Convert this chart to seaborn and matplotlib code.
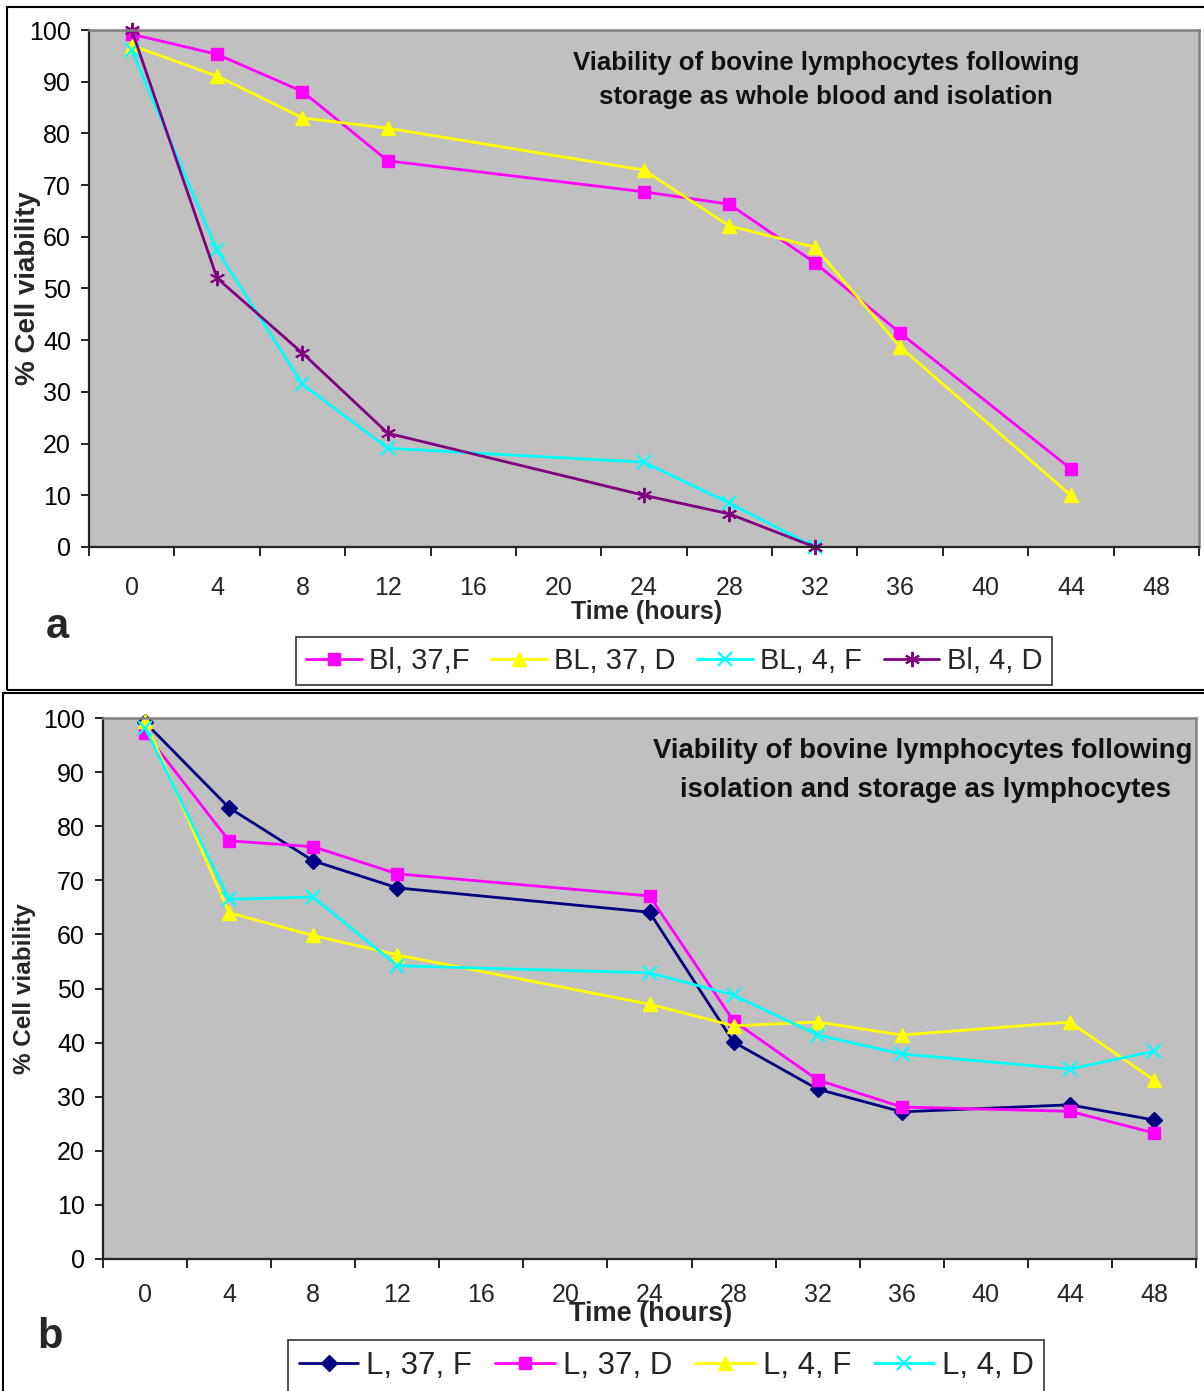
import matplotlib
matplotlib.use("Agg")
import matplotlib.pyplot as plt
from matplotlib.lines import Line2D
from matplotlib.patches import Rectangle
from matplotlib.ticker import FixedLocator, NullFormatter
import seaborn as sns
import pandas as pd

# ---------------- data ----------------
time_labels = ["0", "4", "8", "12", "16", "20", "24", "28", "32", "36", "40", "44", "48"]

a_times = ["0", "4", "8", "12", "24", "28", "32", "36", "44"]
a_bl37f = [99.2, 95.3, 88.1, 74.7, 68.7, 66.3, 55.0, 41.4, 15.1]
a_bl37d = [97.0, 91.1, 83.0, 81.0, 72.9, 62.1, 58.0, 38.7, 10.0]
a_bl4f_times = ["0", "4", "8", "12", "24", "28", "32"]
a_bl4f = [96.1, 57.4, 31.5, 19.1, 16.4, 8.5, 0.0]
a_bl4d = [100.0, 52.0, 37.5, 22.0, 10.0, 6.4, 0.0]

b_times = ["0", "4", "8", "12", "24", "28", "32", "36", "44", "48"]
b_l37f = [99.2, 83.4, 73.6, 68.6, 64.1, 40.1, 31.4, 27.2, 28.5, 25.7]
b_l37d = [97.3, 77.3, 76.2, 71.2, 67.1, 44.0, 33.1, 28.1, 27.3, 23.3]
b_l4f = [99.5, 64.0, 59.8, 56.2, 47.1, 43.1, 43.8, 41.4, 43.8, 33.1]
b_l4d = [98.2, 66.5, 66.9, 54.2, 52.9, 48.8, 41.4, 37.9, 35.1, 38.4]

a_labels = ["Bl, 37,F", "BL, 37, D", "BL, 4, F", "Bl, 4, D"]
b_labels = ["L, 37, F", "L, 37, D", "L, 4, F", "L, 4, D"]
a_title = ["Viability of bovine lymphocytes following", "storage as whole blood and isolation"]
b_title = ["Viability of bovine lymphocytes following", "isolation and storage as lymphocytes"]

# ---------------- style ----------------
sns.set_theme(style="white")
plt.rcParams["font.family"] = ["Liberation Sans", "DejaVu Sans"]

MAG, YEL, CYA, PUR, NAV = "#FF00FF", "#FFFF00", "#00FFFF", "#800080", "#000080"
ASTER = (6, 2, 0)

W, H = 1204, 1391
fig = plt.figure(figsize=(W / 100, H / 100), dpi=100)
fig.patch.set_facecolor("white")


def px_axes(x0, y0, x1, y1):
    return fig.add_axes([x0 / W, 1 - y1 / H, (x1 - x0) / W, (y1 - y0) / H])


def series_df(times, vals):
    return pd.DataFrame({"pos": [time_labels.index(t) for t in times], "val": vals})


def draw(ax, times, vals, color, marker, ms, mew=1.0):
    df = series_df(times, vals)
    sns.lineplot(data=df, x="pos", y="val", ax=ax, color=color, marker=marker,
                 markersize=ms, markeredgewidth=mew, markeredgecolor=color,
                 linewidth=2.0, sort=False, clip_on=False, legend=False)


def style_axes(ax, xpad, ylabsize, xlabsize):
    ax.set_facecolor("#C0C0C0")
    ax.set_xlim(-0.5, len(time_labels) - 0.5)
    ax.set_ylim(0, 100)
    ax.set_yticks(range(0, 101, 10))
    ax.tick_params(axis="y", which="major", direction="out", length=6, width=1.2,
                   colors="black", labelsize=18, pad=7, left=True)
    ax.xaxis.set_major_locator(FixedLocator([i - 0.5 for i in range(len(time_labels) + 1)]))
    ax.xaxis.set_major_formatter(NullFormatter())
    ax.xaxis.set_minor_locator(FixedLocator(list(range(len(time_labels)))))
    ax.set_xticklabels(time_labels, minor=True)
    ax.tick_params(axis="x", which="major", direction="out", length=6.5, width=1.2,
                   colors="black", bottom=True)
    ax.tick_params(axis="x", which="minor", length=0, labelsize=18, pad=xpad, bottom=True)
    for s in ["left", "bottom"]:
        ax.spines[s].set_color("#222222")
        ax.spines[s].set_linewidth(1.6)
    for s in ["top", "right"]:
        ax.spines[s].set_color("#808080")
        ax.spines[s].set_linewidth(1.8)
    ax.set_xlabel("Time (hours)", fontsize=xlabsize, fontweight="bold")
    ax.set_ylabel("% Cell viability", fontsize=ylabsize, fontweight="bold")


# ---------------- panel a ----------------
ax_a = px_axes(89, 30, 1199, 547)
draw(ax_a, a_times, a_bl37f, MAG, "s", 8.5)
draw(ax_a, a_times, a_bl37d, YEL, "^", 9.5)
draw(ax_a, a_bl4f_times, a_bl4f, CYA, "x", 10, 1.6)
draw(ax_a, a_bl4f_times, a_bl4d, PUR, ASTER, 11, 1.4)
style_axes(ax_a, 21, 20, 18)
ax_a.xaxis.set_label_coords(0.502, -0.103)
ax_a.yaxis.set_label_coords(-0.043, 0.5)

# ---------------- panel b ----------------
ax_b = px_axes(103, 718, 1196, 1259)
draw(ax_b, b_times, b_l37f, NAV, "D", 8)
draw(ax_b, b_times, b_l37d, MAG, "s", 8.5)
draw(ax_b, b_times, b_l4f, YEL, "^", 9.5)
draw(ax_b, b_times, b_l4d, CYA, "x", 10, 1.6)
style_axes(ax_b, 17.5, 17.5, 19.5)
ax_b.xaxis.set_label_coords(0.501, -0.077)
ax_b.yaxis.set_label_coords(-0.061, 0.5)

# ---------------- titles ----------------
tkw = dict(fontweight="bold", ha="center", va="center", color="#111111")
fig.text(826 / W, 1 - 63 / H, a_title[0], fontsize=18.6, **tkw)
fig.text(826 / W, 1 - 97 / H, a_title[1], fontsize=18.6, **tkw)
fig.text(923 / W, 1 - 751 / H, b_title[0], fontsize=19.8, **tkw)
fig.text(925 / W, 1 - 790 / H, b_title[1], fontsize=19.8, **tkw)

# panel letters
fig.text(57 / W, 1 - 627 / H, "a", fontsize=30, fontweight="bold", ha="center", va="center")
fig.text(50 / W, 1 - 1337 / H, "b", fontsize=30, fontweight="bold", ha="center", va="center")

# ---------------- legends ----------------
def handle(color, marker, ms, mew=1.0):
    return Line2D([], [], color=color, marker=marker, markersize=ms, markeredgewidth=mew,
                  markeredgecolor=color, linewidth=2.0)

lkw = dict(loc="upper left", ncol=4, frameon=True, fancybox=False, edgecolor="black",
           handletextpad=0.25, columnspacing=0.75,
           borderpad=0.35, borderaxespad=0)
la = fig.legend([handle(MAG, "s", 8.5), handle(YEL, "^", 9.5), handle(CYA, "x", 10, 1.6),
                 handle(PUR, ASTER, 11, 1.4)], a_labels,
                bbox_to_anchor=(296 / W, 1 - 637 / H), fontsize=21, handlelength=1.9, **lkw)
la.get_frame().set_linewidth(1.2)
lb = fig.legend([handle(NAV, "D", 8), handle(MAG, "s", 8.5), handle(YEL, "^", 9.5),
                 handle(CYA, "x", 10, 1.6)], b_labels,
                bbox_to_anchor=(288 / W, 1 - 1340 / H), fontsize=22.5, handlelength=1.9, **lkw)
lb.get_frame().set_linewidth(1.2)

# ---------------- panel frames ----------------
fig.add_artist(Rectangle((7 / W, 1 - 690 / H), 1.0, (690 - 7) / H, transform=fig.transFigure,
                         fill=False, edgecolor="black", linewidth=1.5, zorder=10))
fig.add_artist(Rectangle((3 / W, 1 - 1395 / H), 1.0, (1395 - 693) / H, transform=fig.transFigure,
                         fill=False, edgecolor="black", linewidth=1.5, zorder=10))

fig.savefig("out.png", dpi=100, facecolor="white")
